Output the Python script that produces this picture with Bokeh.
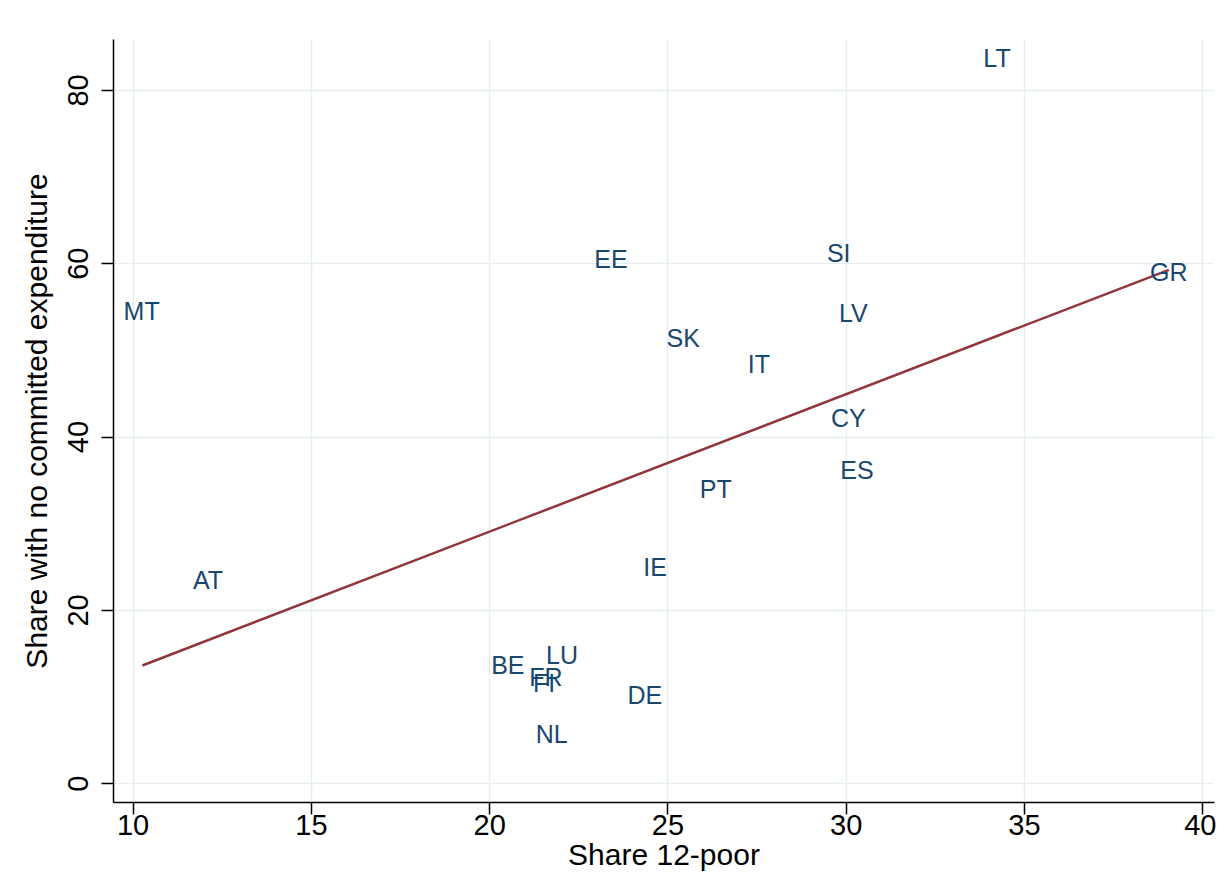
from bokeh.plotting import figure
from bokeh.models import Range1d, FixedTicker, ColumnDataSource
from bokeh.core.properties import value
from bokeh.embed import file_html
from bokeh.resources import INLINE

countries = ["LT", "MT", "AT", "BE", "FR", "FI", "LU", "NL", "DE", "IE",
             "PT", "EE", "SK", "IT", "SI", "LV", "CY", "ES", "GR"]
share_12_poor = [34.23, 10.24, 12.10, 20.51, 21.58, 21.53, 22.03, 21.74, 24.35, 24.64,
                 26.34, 23.40, 25.43, 27.55, 29.79, 30.20, 30.06, 30.30, 39.05]
share_no_committed = [83.75, 54.6, 23.46, 13.65, 12.27, 11.57, 14.83, 5.8, 10.19, 24.96,
                      33.96, 60.6, 51.38, 48.4, 61.2, 54.3, 42.15, 36.15, 59.0]

fit_x = [10.26, 39.05]
fit_y = [13.65, 59.3]

x_ticks = [10, 15, 20, 25, 30, 35, 40]
y_ticks = [0, 20, 40, 60, 80]

FONT = "Liberation Sans"

p = figure(width=1216, height=873, output_backend="svg", toolbar_location=None,
           x_range=Range1d(9.45, 40.33), y_range=Range1d(-2.16, 85.87),
           min_border_left=113, min_border_right=2, min_border_top=39,
           min_border_bottom=70)
p.outline_line_color = None
p.background_fill_color = "white"
p.border_fill_color = "white"

src = ColumnDataSource(dict(x=share_12_poor, y=share_no_committed, label=countries))

p.line(fit_x, fit_y, line_color="#90353b", line_width=2.5)
p.text(x="x", y="y", text="label", source=src, text_font=value(FONT),
       text_font_size="25px", text_color="#1a476f", text_align="center",
       text_baseline="middle")

p.xaxis.ticker = FixedTicker(ticks=x_ticks)
p.yaxis.ticker = FixedTicker(ticks=y_ticks)
p.xaxis.axis_label = "Share 12-poor"
p.yaxis.axis_label = "Share with no committed expenditure"

for ax in (p.xaxis[0], p.yaxis[0]):
    ax.axis_line_color = "black"
    ax.axis_line_width = 1.5
    ax.major_tick_line_color = "black"
    ax.major_tick_line_width = 1.5
    ax.major_tick_out = 12
    ax.major_tick_in = 0
    ax.minor_tick_line_color = None
    ax.major_label_text_font = FONT
    ax.major_label_text_font_size = "29px"
    ax.major_label_text_color = "black"
    ax.axis_label_text_font = FONT
    ax.axis_label_text_font_size = "30px"
    ax.axis_label_text_font_style = "normal"
    ax.axis_label_text_color = "black"

p.xaxis.major_label_standoff = 0
p.xaxis.axis_label_standoff = 0
p.yaxis.major_label_standoff = 13
p.yaxis.axis_label_standoff = 13
p.yaxis.major_label_orientation = "vertical"

for g in (p.xgrid[0], p.ygrid[0]):
    g.grid_line_color = "#e5eef1"
    g.grid_line_width = 1.5

open("out.html", "w").write(file_html(p, INLINE))
